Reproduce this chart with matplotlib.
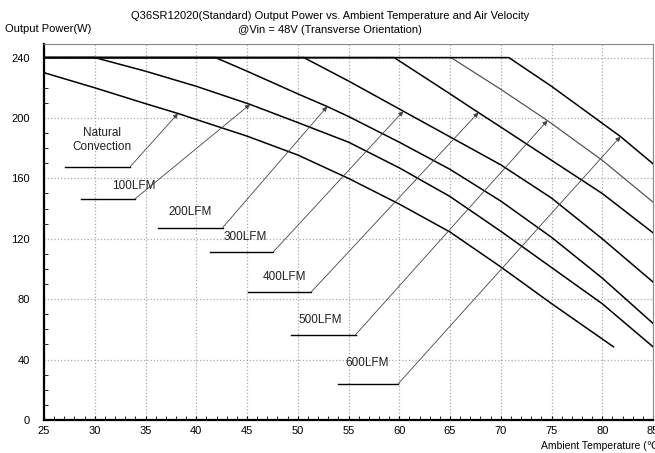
import matplotlib.pyplot as plt
from matplotlib.ticker import MultipleLocator

plt.rcParams['font.family'] = ['Liberation Sans', 'DejaVu Sans']

# derating curves: ambient temperature (C) vs output power (W)
nc_t = [25, 30, 35, 38.2, 40, 45, 50, 55, 60, 65, 70, 75, 81.1]
nc_p = [230, 220, 209.5, 203, 199, 188, 175.5, 160, 143, 124.5, 101.4, 77.1, 48.5]

lfm100_t = [25, 30, 35, 40, 45.3, 50, 55, 60, 65, 70, 75, 80, 85]
lfm100_p = [240, 240, 231, 221, 209, 197, 184, 167, 148, 125, 101, 77, 48.5]

lfm200_t = [25, 41.9, 45, 50, 52.9, 55, 60, 65, 70, 75, 80, 85]
lfm200_p = [240, 240, 231, 216, 207.6, 201, 184, 166, 145, 121, 94, 64]

lfm300_t = [25, 50.6, 55, 60.4, 65, 70, 75, 80, 85]
lfm300_p = [240, 240, 224.5, 204.5, 187.5, 169, 147, 120, 91.4]

lfm400_t = [25, 59.5, 65, 67.8, 70, 75, 80, 85]
lfm400_p = [240, 240, 216, 203.6, 194, 172, 150, 124]

lfm500_t = [25, 65.1, 70, 74.6, 80, 85]
lfm500_p = [240, 240, 219, 198.3, 172, 144.3]

lfm600_t = [25, 70.8, 75, 81.8, 85]
lfm600_p = [240, 240, 221, 187.7, 169.7]

labels = ['Natural\nConvection', '100LFM', '200LFM', '300LFM', '400LFM', '500LFM', '600LFM']
label_xy = [(30.7, 185.5), (33.8, 155), (39.4, 138), (44.8, 121.4),
            (48.7, 94.7), (52.2, 66.5), (56.8, 37.9)]
underline_x = [(27.1, 33.5), (28.6, 34.0), (36.2, 42.6), (41.4, 47.6),
               (45.1, 51.3), (49.3, 55.7), (54.0, 59.9)]
underline_y = [167.8, 146.6, 127.4, 111.4, 84.6, 56.5, 24.0]
tips = [(38.2, 203), (45.3, 209), (52.9, 207.6), (60.4, 204.5),
        (67.8, 203.6), (74.6, 198.3), (81.8, 187.7)]

fig = plt.figure(figsize=(6.55, 4.53), dpi=100)
ax = fig.add_axes([44 / 655, 33 / 453, 609 / 655, 376 / 453])

curves = [(nc_t, nc_p), (lfm100_t, lfm100_p), (lfm200_t, lfm200_p),
          (lfm300_t, lfm300_p), (lfm400_t, lfm400_p), (lfm500_t, lfm500_p),
          (lfm600_t, lfm600_p)]
for i, (t, p) in enumerate(curves):
    col = '#555555' if i == 5 else 'black'
    ax.plot(t, p, color=col, lw=1.1 if i != 5 else 0.9, zorder=3)

for i in range(len(labels)):
    x0, x1 = underline_x[i]
    y = underline_y[i]
    ax.plot([x0, x1], [y, y], color='black', lw=1.0, zorder=3)
    ax.annotate('', xy=tips[i], xytext=(x1, y),
                arrowprops=dict(arrowstyle='-|>', color='#444444', lw=0.6,
                                mutation_scale=7, shrinkA=0, shrinkB=0),
                zorder=3)
    ax.text(label_xy[i][0], label_xy[i][1], labels[i], ha='center', va='center',
            fontsize=8.5, linespacing=1.25, color='#222222')

ax.set_xlim(25, 85)
ax.set_ylim(0, 249)
ax.xaxis.set_major_locator(MultipleLocator(5))
ax.xaxis.set_minor_locator(MultipleLocator(1))
ax.yaxis.set_major_locator(MultipleLocator(40))
ax.yaxis.set_minor_locator(MultipleLocator(10))
ax.grid(True, which='major', color='#aaaaaa', linestyle=':', lw=0.9)
ax.set_axisbelow(True)

ax.tick_params(axis='both', which='both', direction='in', labelsize=8)
ax.tick_params(axis='x', which='major', length=3, pad=4)
ax.tick_params(axis='x', which='minor', length=3)
ax.tick_params(axis='y', which='major', length=0, pad=10)
ax.tick_params(axis='y', which='minor', length=3)

ax.spines['left'].set_linewidth(1.6)
ax.spines['bottom'].set_linewidth(1.6)
for s in ['top', 'right']:
    ax.spines[s].set_color('#888888')
    ax.spines[s].set_linewidth(0.8)

fig.text(0.504, 1 - 16 / 453,
         'Q36SR12020(Standard) Output Power vs. Ambient Temperature and Air Velocity',
         ha='center', va='center', fontsize=8)
fig.text(0.504, 1 - 30 / 453, '@Vin = 48V (Transverse Orientation)',
         ha='center', va='center', fontsize=8)
fig.text(5 / 655, 1 - 29 / 453, 'Output Power(W)', ha='left', va='center', fontsize=8)
fig.text(541 / 655, 1 - 446 / 453, 'Ambient Temperature (\u2103)', ha='left',
         va='center', fontsize=7.5)

fig.savefig('out.png', dpi=100)
